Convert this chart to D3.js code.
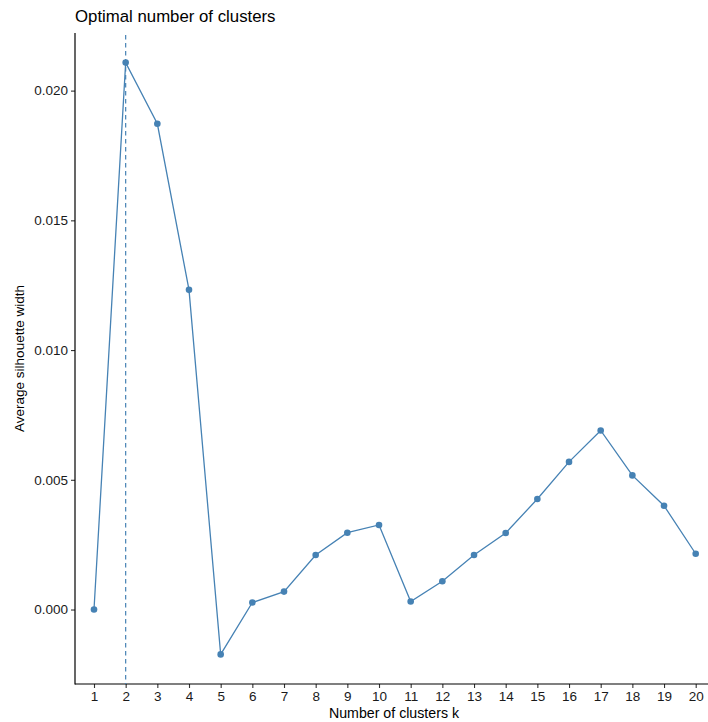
<!DOCTYPE html>
<html>
<head>
<meta charset="utf-8">
<script src="https://cdn.jsdelivr.net/npm/d3@7"></script>
<style>
  html, body { margin: 0; padding: 0; background: #fff; }
  svg { display: block; font-family: "Liberation Sans", Arial, Helvetica, sans-serif; }
</style>
</head>
<body>
<svg id="chart" width="708" height="722"></svg>
<script>
// Number of clusters k and the average silhouette width for each
const clusters = [1, 2, 3, 4, 5, 6, 7, 8, 9, 10, 11, 12, 13, 14, 15, 16, 17, 18, 19, 20];
const silhouette = [0.0000, 0.02108, 0.01872, 0.01232, -0.00173, 0.00027, 0.00069, 0.00210,
  0.00296, 0.00326, 0.00031, 0.00109, 0.00210, 0.00295, 0.00426, 0.00569, 0.00690,
  0.00517, 0.00400, 0.00215];
const optimalK = 2;
const yTicks = [0.000, 0.005, 0.010, 0.015, 0.020];

const W = 708, H = 722;
const margin = { left: 75, top: 33, bottom: 684 };
const color = "#4682B4";

const svg = d3.select("#chart");

// Discrete x positions with 0.6 padding on both ends
const x = d3.scaleLinear().domain([0.4, 20.6]).range([margin.left, 714.7]);
const yMin = d3.min(silhouette), yMax = d3.max(silhouette);
const pad = (yMax - yMin) * 0.05;
const y = d3.scaleLinear().domain([yMin - pad, yMax + pad]).range([margin.bottom, margin.top]);

// Axes (domain lines drawn separately)
const xAxis = d3.axisBottom(x).tickValues(clusters).tickFormat(d3.format("d")).tickSizeOuter(0).tickSize(4).tickPadding(3);
const yAxis = d3.axisLeft(y).tickValues(yTicks).tickFormat(d3.format(".3f")).tickSizeOuter(0).tickSize(4).tickPadding(3);

const gx = svg.append("g").attr("transform", `translate(0,${margin.bottom})`).call(xAxis);
const gy = svg.append("g").attr("transform", `translate(${margin.left},0)`).call(yAxis);

[gx, gy].forEach(g => {
  g.select(".domain").remove();
  g.selectAll(".tick line").attr("stroke", "#333").attr("stroke-width", 1.1);
  g.selectAll(".tick text").attr("fill", "#1a1a1a").style("font-size", "13.5px");
});

svg.append("line")
  .attr("x1", margin.left).attr("x2", W)
  .attr("y1", margin.bottom).attr("y2", margin.bottom)
  .attr("stroke", "#000").attr("stroke-width", 1.2);
svg.append("line")
  .attr("x1", margin.left).attr("x2", margin.left)
  .attr("y1", margin.top).attr("y2", margin.bottom + 0.6)
  .attr("stroke", "#000").attr("stroke-width", 1.2);

// Reference line at the optimal k
svg.append("line")
  .attr("x1", x(optimalK)).attr("x2", x(optimalK))
  .attr("y1", margin.top + 2).attr("y2", margin.bottom)
  .attr("stroke", color).attr("stroke-width", 1.2)
  .attr("stroke-dasharray", "4.5,3.5");

// Silhouette line and points
const line = d3.line().x((d, i) => x(clusters[i])).y(d => y(d));
svg.append("path")
  .datum(silhouette)
  .attr("d", line)
  .attr("fill", "none")
  .attr("stroke", color)
  .attr("stroke-width", 1.3);

svg.append("g").selectAll("circle")
  .data(silhouette)
  .join("circle")
  .attr("cx", (d, i) => x(clusters[i]))
  .attr("cy", d => y(d))
  .attr("r", 3.3)
  .attr("fill", color);

// Titles
svg.append("text")
  .attr("x", 75).attr("y", 22)
  .attr("fill", "#000")
  .style("font-size", "16.8px")
  .text("Optimal number of clusters");

svg.append("text")
  .attr("x", 394).attr("y", 718)
  .attr("text-anchor", "middle")
  .attr("fill", "#000")
  .style("font-size", "14.2px")
  .text("Number of clusters k");

svg.append("text")
  .attr("transform", `translate(24,${(margin.top + margin.bottom) / 2}) rotate(-90)`)
  .attr("text-anchor", "middle")
  .attr("fill", "#000")
  .style("font-size", "13.5px")
  .text("Average silhouette width");
</script>
</body>
</html>
